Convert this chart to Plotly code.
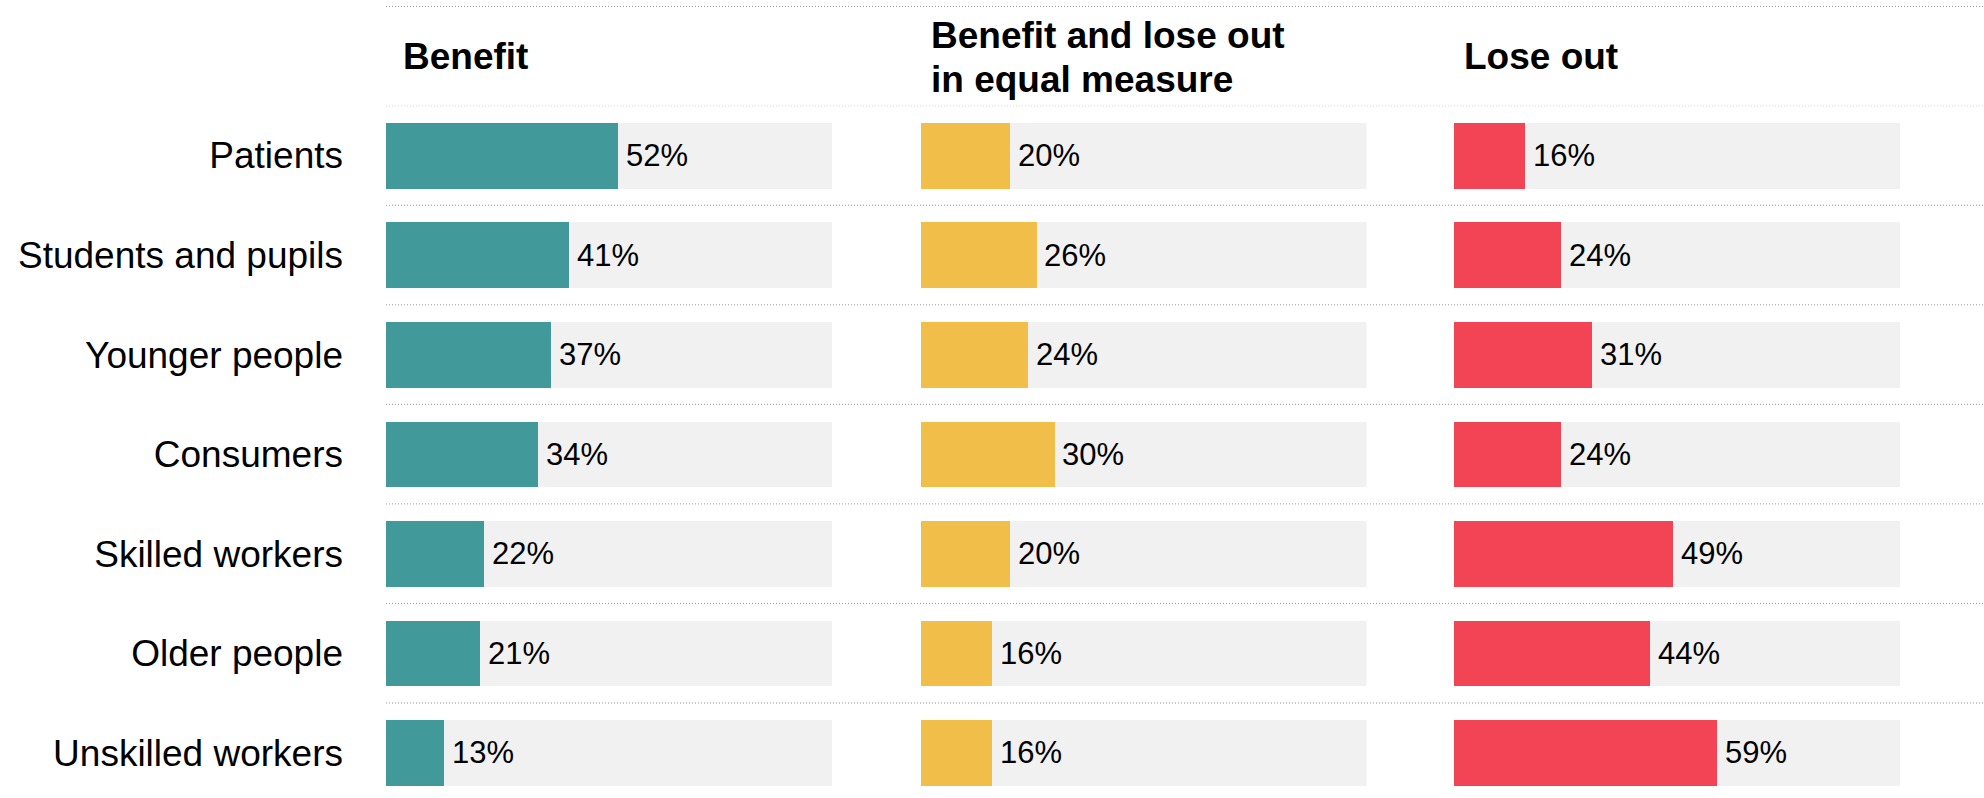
import plotly.graph_objects as go

categories = ["Patients", "Students and pupils", "Younger people", "Consumers",
              "Skilled workers", "Older people", "Unskilled workers"]
benefit = [52, 41, 37, 34, 22, 21, 13]
equal = [20, 26, 24, 30, 20, 16, 16]
lose = [16, 24, 31, 24, 49, 44, 59]
headers = [["Benefit"], ["Benefit and lose out", "in equal measure"], ["Lose out"]]
series = [benefit, equal, lose]
colors = ["#429999", "#f1be4a", "#f24455"]
full_scale = [100] * len(categories)

W, H = 1984, 798
FONT = "Liberation Sans, Arial, sans-serif"

col_px = [(386, 832), (920.5, 1366.5), (1454, 1900)]
header_x_px = [401, 929, 1462]
y_dom = [1 - 792.6 / H, 1 - 105.7 / H]
idx = list(range(len(categories)))

fig = go.Figure()
annotations = []
for i, (vals, col) in enumerate(zip(series, colors)):
    xa = "x" if i == 0 else f"x{i+1}"
    ya = "y" if i == 0 else f"y{i+1}"
    fig.add_trace(go.Bar(x=full_scale, y=idx, orientation="h", width=0.66,
                         marker=dict(color="#f1f1f1", line=dict(width=0)),
                         xaxis=xa, yaxis=ya, hoverinfo="skip", showlegend=False))
    fig.add_trace(go.Bar(x=vals, y=idx, orientation="h", width=0.66,
                         marker=dict(color=col, line=dict(width=0)),
                         xaxis=xa, yaxis=ya, showlegend=False))
    for v, k in zip(vals, idx):
        annotations.append(dict(x=v, y=k, xref=xa, yref=ya, text=f"{v}%",
                                showarrow=False, xanchor="left", yanchor="middle",
                                xshift=6, font=dict(size=31, color="#000", family=FONT)))
    lines = headers[i]
    if len(lines) == 1:
        ys = [57]
    else:
        ys = [35, 79]
    for t, ypx in zip(lines, ys):
        annotations.append(dict(x=header_x_px[i] / W, y=1 - ypx / H, xref="paper", yref="paper",
                                text=f"<b>{t}</b>", showarrow=False, xanchor="left",
                                yanchor="middle", font=dict(size=37, color="#000", family=FONT)))

shapes = []
x_line0 = 386 / W
dotted = dict(color="#999", width=1, dash="1px,2px")
shapes.append(dict(type="line", xref="paper", yref="paper", x0=x_line0, x1=1,
                   y0=1 - 6.5 / H, y1=1 - 6.5 / H, line=dotted))
for k in idx:
    shapes.append(dict(type="line", xref="paper", yref="y", x0=x_line0, x1=1,
                       y0=k - 0.5, y1=k - 0.5, line=dotted))

layout = dict(
    width=W, height=H, margin=dict(l=0, r=0, t=0, b=0),
    paper_bgcolor="white", plot_bgcolor="white",
    barmode="overlay", bargap=0,
    font=dict(family=FONT, color="#000"),
    annotations=annotations, shapes=shapes,
)
for i, (a, b) in enumerate(col_px):
    xn = "xaxis" if i == 0 else f"xaxis{i+1}"
    yn = "yaxis" if i == 0 else f"yaxis{i+1}"
    layout[xn] = dict(domain=[a / W, b / W], range=[0, 100], visible=False, fixedrange=True,
                      anchor="y" if i == 0 else f"y{i+1}")
    yax = dict(domain=y_dom, range=[6.4, -0.5], showgrid=False, zeroline=False,
               showline=False, ticks="", fixedrange=True,
               anchor="x" if i == 0 else f"x{i+1}")
    if i == 0:
        yax.update(tickmode="array", tickvals=idx, ticktext=categories,
                   tickfont=dict(size=37, color="#000", family=FONT), ticklabelstandoff=42)
    else:
        yax.update(showticklabels=False, matches="y")
    layout[yn] = yax

fig.update_layout(**layout)
fig.write_html("out.html")
